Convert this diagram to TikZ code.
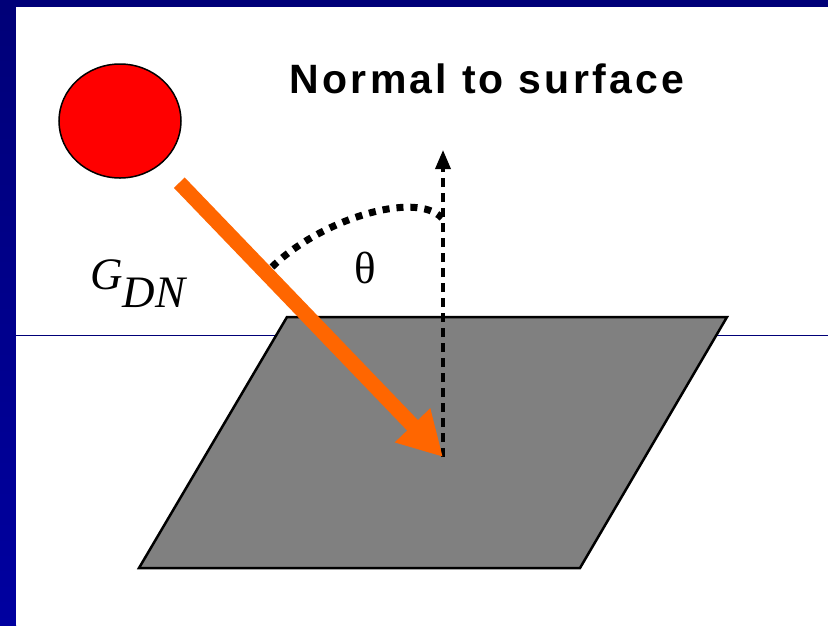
\documentclass[tikz,border=0pt]{standalone}
\usepackage{fontspec}
\setmainfont{Liberation Serif}
\newfontfamily\titlefont[LetterSpace=8]{Liberation Sans}
\usepackage{tikz}
\usetikzlibrary{arrows.meta,shapes.geometric}
\definecolor{slidenavy}{RGB}{0,0,120}
\definecolor{slideblue}{RGB}{0,0,160}
\definecolor{beamorange}{RGB}{255,102,0}
\definecolor{surfacegrey}{RGB}{128,128,128}

\begin{document}
\begin{tikzpicture}[
  x=1pt,y=-1pt,
  every node/.style={align=center},
  sunball/.style={ellipse,draw=black,line width=1.5pt,fill=red,
                minimum width=122pt,minimum height=114pt,inner sep=0pt},
  beam/.style={-{Triangle[length=44pt,width=46pt]},line width=15pt,beamorange},
  normalline/.style={-{Triangle[length=19pt,width=15pt]},line width=3.5pt,
                dash pattern=on 9pt off 6pt,black},
  anglearc/.style={line width=7pt,dash pattern=on 7pt off 7pt,black},
  surface/.style={fill=surfacegrey,draw=black,line width=2.5pt,line join=miter}
]
\useasboundingbox (0,0) rectangle (828,625);

% --- Slide background ---
\fill[slidenavy] (0,0) rectangle (828,625);
\shade[top color=slidenavy,bottom color=slideblue] (0,7) rectangle (16,625);
\fill[white] (16,7) rectangle (828,625);
\draw[slidenavy,line width=1pt] (16,335) -- (828,335);

% --- Surface ---
\draw[surface] (287,317) -- (727,317) -- (580,568) -- (139,568) -- cycle;

% --- Nodes ---
\node[sunball] (sun) at (120,121) {};
\coordinate (hit) at (443,457);
\coordinate (normaltop) at (443,150);
\coordinate (arcstart) at (272,267);
\coordinate (arcend) at (442,218);

\node (title) at (487,79)
  {\titlefont\bfseries\fontsize{41}{46}\selectfont Normal to surface};
\node (gdn) at (138,284)
  {\fontsize{45}{50}\selectfont\itshape G\raisebox{-18pt}{DN}};
\node (theta) at (365,268) {\fontsize{45}{50}\selectfont θ};

% --- Normal and angle ---
\draw[normalline] (hit) -- (normaltop);
\draw[anglearc] (arcstart) .. controls (320,220) and (415,190) .. (arcend);

% --- Incoming beam ---
\draw[beam,shorten <=26pt] (sun) -- (hit);
\end{tikzpicture}
\end{document}
